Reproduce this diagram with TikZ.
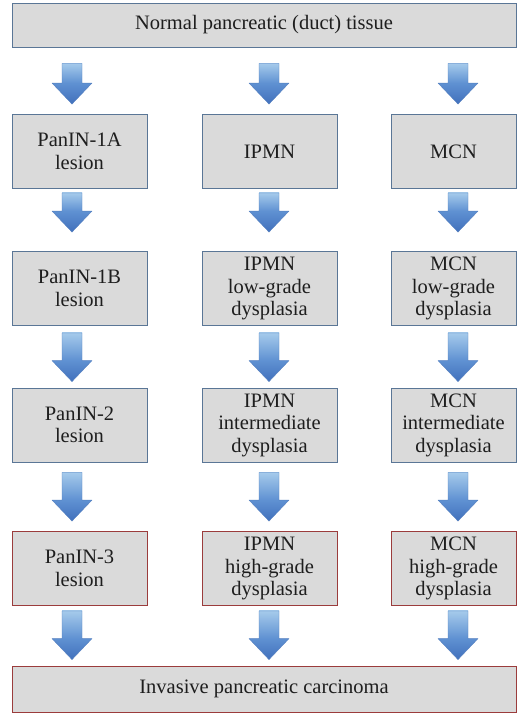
\documentclass[tikz,border=0pt]{standalone}
\usepackage{fontspec}
\setmainfont{Liberation Serif}
\usetikzlibrary{calc}
\definecolor{boxfill}{RGB}{218,218,218}
\definecolor{boxedge}{RGB}{90,118,150}
\definecolor{rededge}{RGB}{155,60,60}
\definecolor{arrtop}{RGB}{165,202,235}
\definecolor{arrmid}{RGB}{95,145,210}
\definecolor{arrbot}{RGB}{65,112,188}
\definecolor{arredge}{RGB}{85,128,192}
\definecolor{txt}{RGB}{30,30,30}
\newcommand\flowarr[5]{%
  \coordinate (at0) at (#3 |- #1.south);
  \coordinate (at) at ($(at0)+(0,#4)$);
  \coordinate (ab0) at (#3 |- #2.north);
  \coordinate (ab) at ($(ab0)+(0,-#5)$);
  \shade[top color=arrtop, bottom color=arrmid] ($(at)+(-10,0)$) rectangle ($(ab)+(10,-21)$);
  \shade[top color=arrmid, bottom color=arrbot] ($(ab)+(-20,-21)$) -- ($(ab)+(20,-21)$) -- (ab) -- cycle;
  \draw[arredge, line width=0.4pt, line join=round] ($(at)+(-10,0)$) -- ($(at)+(10,0)$) -- ($(ab)+(10,-21)$)
    -- ($(ab)+(20,-21)$) -- (ab) -- ($(ab)+(-20,-21)$) -- ($(ab)+(-10,-21)$) -- cycle;}
\begin{document}
\begin{tikzpicture}[x=1pt,y=-1pt,
  box/.style={draw=boxedge, line width=0.9pt, fill=boxfill, text=txt, align=center,
    inner sep=0pt, font=\fontsize{20.5}{22.5}\selectfont},
  redbox/.style={box, draw=rededge},
  colA/.style={minimum width=135pt, minimum height=74pt},
  colB/.style={minimum width=135pt, minimum height=74pt},
  colC/.style={minimum width=125pt, minimum height=74pt}]
\useasboundingbox (0,0) rectangle (518,715);
\fill[white] (0,0) rectangle (518,715);
\coordinate (x1) at (72,0);
\coordinate (x2) at (269,0);
\coordinate (x3) at (458,0);
% top and bottom
\node[box, minimum width=504pt, minimum height=44pt] (top) at (264,25) {Normal pancreatic (duct) tissue};
\node[redbox, minimum width=504pt, minimum height=46pt] (bot) at (264,689) {Invasive pancreatic carcinoma};
% column 1
\node[box, colA] (a1) at (79.5,151.5) {PanIN-1A\\lesion};
\node[box, colA] (a2) at (79.5,288.5) {PanIN-1B\\lesion};
\node[box, colA] (a3) at (79.5,425) {PanIN-2\\lesion};
\node[redbox, colA] (a4) at (79.5,568.5) {PanIN-3\\lesion};
% column 2
\node[box, colB] (b1) at (269.5,151.5) {IPMN};
\node[box, colB] (b2) at (269.5,288.5) {IPMN\\low-grade\\dysplasia};
\node[box, colB] (b3) at (269.5,425) {IPMN\\intermediate\\dysplasia};
\node[redbox, colB] (b4) at (269.5,568.5) {IPMN\\high-grade\\dysplasia};
% column 3
\node[box, colC] (c1) at (453.5,151.5) {MCN};
\node[box, colC] (c2) at (453.5,288.5) {MCN\\low-grade\\dysplasia};
\node[box, colC] (c3) at (453.5,425) {MCN\\intermediate\\dysplasia};
\node[redbox, colC] (c4) at (453.5,568.5) {MCN\\high-grade\\dysplasia};
% arrows
\flowarr{top}{a1}{x1}{16}{10}
\flowarr{top}{b1}{x2}{16}{10}
\flowarr{top}{c1}{x3}{16}{10}
\flowarr{a1}{a2}{x1}{4}{19}
\flowarr{b1}{b2}{x2}{4}{19}
\flowarr{c1}{c2}{x3}{4}{19}
\flowarr{a2}{a3}{x1}{7}{6}
\flowarr{b2}{b3}{x2}{7}{6}
\flowarr{c2}{c3}{x3}{7}{6}
\flowarr{a3}{a4}{x1}{10}{10}
\flowarr{b3}{b4}{x2}{10}{10}
\flowarr{c3}{c4}{x3}{10}{10}
\flowarr{a4}{bot}{x1}{5}{6}
\flowarr{b4}{bot}{x2}{5}{6}
\flowarr{c4}{bot}{x3}{5}{6}
\end{tikzpicture}
\end{document}
